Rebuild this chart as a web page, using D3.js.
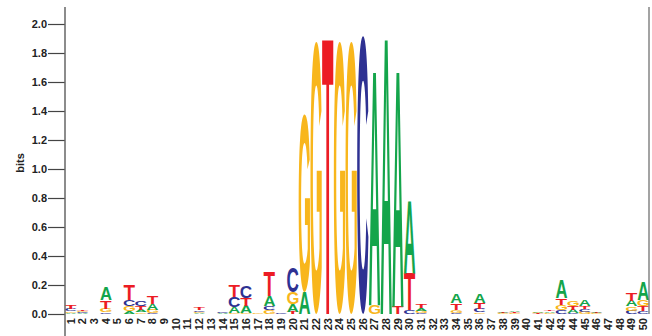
<!DOCTYPE html>
<html>
<head>
    <title>Sequence Logo</title>
    <script src="https://d3js.org/d3.v7.min.js"></script>
    <style>
        body {
            margin: 0;
            background: white;
            font-family: "Liberation Sans", Arial, sans-serif;
        }
        .tick text {
            font-weight: bold;
            font-size: 11px;
            fill: #222;
        }
    </style>
</head>
<body>
    <div id="logo"></div>
    <script>
        // Per-position information content (bits) for each base, positions 1..50
        const positions = d3.range(1, 51);
        const A = [0.008,0.006,0.003,0.09,0,0.02,0.015,0.04,0,0,0,0.005,0,0.004,0.045,0.05,0.003,0.07,0.003,0.05,
                   0.15,0,0,0,0,0,1.63,1.92,1.64,0.505,0.02,0.003,0,0.06,0.002,0.06,0.002,0.006,0.008,0,
                   0.007,0.01,0.12,0.022,0.04,0.007,0,0,0.04,0.12];
        const C = [0.015,0.008,0,0.012,0,0.04,0.037,0.008,0,0,0,0.012,0,0.008,0.07,0.08,0,0.03,0.005,0.17,
                   0,0,0,0,0,1.92,0,0,0,0.03,0.004,0,0,0.01,0.002,0.025,0.002,0,0,0,
                   0,0,0.028,0.006,0.02,0,0,0,0.023,0.02];
        const G = [0.01,0.008,0.003,0.025,0,0.035,0.012,0.022,0,0,0,0.009,0,0,0.005,0.004,0.005,0.025,0,0.08,
                   1.23,1.88,0,1.88,1.88,0,0.06,0,0,0,0.015,0.002,0,0.02,0,0.01,0,0.004,0.006,0,
                   0.005,0.008,0.035,0.037,0.014,0.004,0,0,0.03,0.04];
        const T = [0.022,0.012,0,0.057,0,0.11,0.025,0.05,0,0,0,0.02,0,0,0.08,0.055,0,0.17,0,0.016,
                   0,0,1.92,0,0,0,0,0,0.05,0.255,0.025,0,0,0.045,0,0.04,0,0.004,0.006,0,
                   0.004,0.01,0.045,0.027,0.02,0.004,0,0,0.05,0.035];
        const yTicks = [0, 0.2, 0.4, 0.6, 0.8, 1.0, 1.2, 1.4, 1.6, 1.8, 2.0];

        const colors = { A: "#14a54b", C: "#2e3192", G: "#f8b61c", T: "#ec1c24" };
        const bases = { A, C, G, T };

        const width = 652, height = 336;
        const svg = d3.select("#logo")
            .append("svg")
            .attr("width", width)
            .attr("height", height);

        const x = d3.scaleBand()
            .domain(positions)
            .range([65, 649])
            .paddingInner(0.03)
            .paddingOuter(0.015);

        const y = d3.scaleLinear()
            .domain([0, 2])
            .range([314, 24]);

        // glyph ink metrics from canvas so letters can be stretched to fill their box
        const ctx = document.createElement("canvas").getContext("2d");
        const fontSpec = "bold 100px 'Liberation Sans'";
        ctx.font = fontSpec;
        const metrics = {};
        Object.keys(colors).forEach(b => {
            const m = ctx.measureText(b);
            metrics[b] = {
                left: m.actualBoundingBoxLeft,
                right: m.actualBoundingBoxRight,
                ascent: m.actualBoundingBoxAscent,
                descent: m.actualBoundingBoxDescent
            };
        });

        // Build stacks: smallest at the bottom, largest on top
        const stacks = [];
        positions.forEach((p, i) => {
            const col = Object.keys(bases)
                .map(b => ({ base: b, value: bases[b][i] }))
                .filter(d => d.value > 0)
                .sort((a, b) => a.value - b.value);
            let cum = 0;
            col.forEach(d => {
                stacks.push({ pos: p, base: d.base, y0: cum, y1: cum + d.value });
                cum += d.value;
            });
        });

        svg.append("g")
            .selectAll("text")
            .data(stacks)
            .enter()
            .append("text")
            .text(d => d.base)
            .style("font", fontSpec)
            .attr("fill", d => colors[d.base])
            .attr("transform", d => {
                const m = metrics[d.base];
                const x0 = x(d.pos);
                const w = x.bandwidth();
                const top = y(d.y1);
                const h = y(d.y0) - top;
                const sx = w / (m.left + m.right);
                const sy = h / (m.ascent + m.descent);
                return `translate(${x0 + m.left * sx},${top + m.ascent * sy}) scale(${sx},${sy})`;
            });

        // Y axis
        const yAxis = svg.append("g")
            .attr("transform", "translate(65,0)")
            .call(d3.axisLeft(y).tickValues(yTicks).tickFormat(d3.format(".1f")).tickSize(17).tickPadding(1));
        yAxis.select(".domain").remove();
        yAxis.selectAll(".tick line").attr("stroke", "#444").attr("stroke-width", 1.2);

        svg.append("line")
            .attr("x1", 65).attr("x2", 65)
            .attr("y1", 7).attr("y2", 336)
            .attr("stroke", "#666")
            .attr("stroke-width", 1.5);

        svg.append("line")
            .attr("x1", 649).attr("x2", 649)
            .attr("y1", 7).attr("y2", 314)
            .attr("stroke", "#666")
            .attr("stroke-width", 1.2);

        svg.append("text")
            .attr("transform", "translate(24,163) rotate(-90)")
            .attr("text-anchor", "middle")
            .style("font-weight", "bold")
            .style("font-size", "11px")
            .attr("fill", "#222")
            .text("bits");

        // X axis position labels
        const xAxis = svg.append("g")
            .attr("transform", "translate(0,316)")
            .call(d3.axisBottom(x).tickSize(0).tickPadding(0));
        xAxis.select(".domain").remove();
        xAxis.selectAll(".tick text")
            .attr("transform", "rotate(-90)")
            .attr("text-anchor", "end")
            .attr("x", -2)
            .attr("y", 0)
            .attr("dy", "0.35em")
            .style("font-size", "11px");
    </script>
</body>
</html>
